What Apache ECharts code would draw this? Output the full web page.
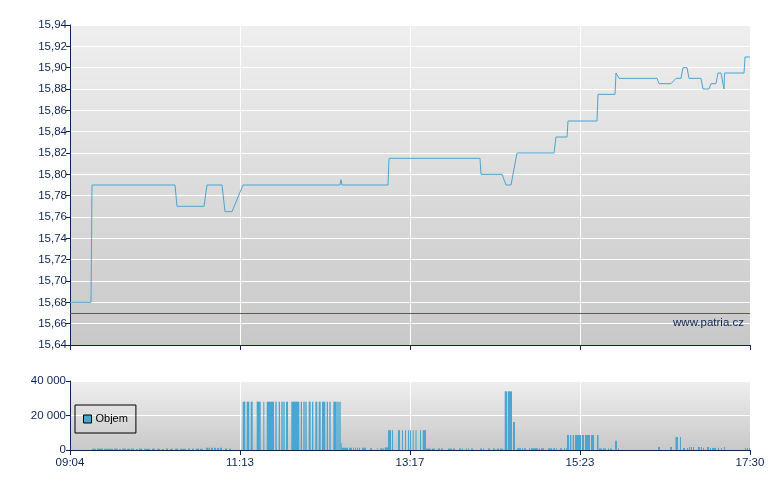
<!DOCTYPE html>
<html>
<head>
<meta charset="utf-8">
<script src="https://cdn.jsdelivr.net/npm/echarts@6/dist/echarts.min.js"></script>
<style>
html,body{margin:0;padding:0;background:#fff;}
#chart{width:780px;height:490px;}
</style>
</head>
<body>
<div id="chart"></div>
<script>
// x positions are in time slots: 0 = 09:04, 680 = 17:30 (axis is evenly spaced by tick labels)
const timeTickLabels = ['09:04', '11:13', '13:17', '15:23', '17:30'];

const priceX = [0,21,22,105,107,134,137,152,155,162,173,270,271,272,318,319,410,411,432,436,441,447,484,486,497,498,527,528,545,546,548,549,587,589,601,606,611,613,617,619,631,633,639,641,646,648,651,654,654.5,674,675,680];
const priceY = [15.68,15.68,15.79,15.79,15.77,15.77,15.79,15.79,15.765,15.765,15.79,15.79,15.795,15.79,15.79,15.815,15.815,15.80,15.80,15.79,15.79,15.82,15.82,15.835,15.835,15.85,15.85,15.875,15.875,15.895,15.895,15.89,15.89,15.885,15.885,15.89,15.89,15.90,15.90,15.89,15.89,15.88,15.88,15.885,15.885,15.895,15.895,15.88,15.895,15.895,15.91,15.91];

const previousClose = 15.67;

// volume bars: [slot start, slot end, volume]
const volumeBars = [
  [22,26,700],[27,33,800],[34,43,700],[44,48,800],[49,51,600],[52,56,800],[57,60,700],[61,64,800],
  [66,68,600],[69,72,800],[74,80,700],[82,85,800],[87,90,700],[92,94,600],[96,98,800],[100,103,700],
  [105,108,800],[110,116,700],[118,120,800],[122,124,700],[126,129,800],[130,133,700],
  [136,138,1300],[138.5,140,1300],[141,143,1300],[144,146,1300],[147,149,1200],[150,152,1300],
  [155,157,800],[159,161,700],
  [172.7,175.3,28000],[176.7,179.3,28000],[180.7,182.7,28000],[186.7,190.7,28000],[193.3,194.3,28000],
  [196.7,204,28000],[205.3,206.7,28000],[208.7,210,28000],[211.3,212.7,28000],[213.3,214.7,28000],
  [216,218,28000],[221.3,229.3,28000],[230.7,232,28000],[233.3,234.7,28000],[235.3,236.7,28000],
  [238.7,240.7,28000],[242,243.3,28000],[245.3,247.3,28000],[248.7,250.7,28000],[252,255.3,28000],
  [256.7,258,28000],[259.3,260.7,28000],[263.3,266.7,28000],[267.3,268.7,28000],[269.3,270.7,28000],
  [270.7,271.5,4000],
  [271.5,278,1300],[279,282,1300],[283,284,1300],[285,286,1300],[287,288,1300],[289,290,1300],[292,296,1300],
  [300,302,1000],[307,308,900],[310,312.7,900],[313,314,900],[314.7,318,1500],
  [318,321,11500],[322,323,11500],[328,330,11500],[332,333,11500],[335,336,11500],[338,339,11500],
  [340,341,11500],[342.7,343.5,11500],[345.5,346.5,11500],[350,351,11500],[352.7,356,11500],
  [356,361,800],[362,365,800],[368,370,800],[371,373,800],[378,382,800],[383,385,800],[389,391,800],
  [392,393,800],[396,397,800],[398,399,800],[401,403,800],[410,412,800],[413,414,800],[418,420,800],
  [423,425,800],[427,429,800],[430,433,800],
  [434.7,437.3,34000],[438,442,34000],[443,445,16300],
  [447,451,1000],[452,453,1000],[454,456,1000],[459,460,1000],[461,468,1000],[469,470,1000],
  [471,474,1000],[478,482,1000],[483,485,1000],[486,487,1000],[490,492,1000],[494,495,1000],[496,496.7,1000],
  [497,499,8700],[500,501.3,8700],[502.7,504,8700],[505,511,8700],[512,514,8700],[515,520,8700],
  [521,524,8700],[527,528.5,8700],
  [529,532,900],[533,536,900],[538,539,900],[540,542,900],[545,547,5300],[548,549,800],
  [588,590,1700],[600,602,1700],[605.5,608,7500],[610,611,7500],[613,615,1200],[617,618,1200],
  [619,620,1700],[621,622,1700],[623,624,1700],[628,630,1700],[631,632,1700],[633,634,1200],
  [637,639,1700],[640,641,1200],[642,646,1200],[648,649,1200],[651,652,1200],[654,655,1700],
  [675,676,1200],[677,678,1200],[679,680,1200]
];

const NAVY = '#0b2454';
const BLUE = '#48a6d0';
const FONT = '"Liberation Sans", Arial, sans-serif';

const chart = echarts.init(document.getElementById('chart'), null, {renderer: 'canvas'});

function bg() {
  return new echarts.graphic.LinearGradient(0, 0, 0, 1, [
    {offset: 0, color: '#efefef'},
    {offset: 1, color: '#c8c8c8'}
  ]);
}

const xCommon = {
  type: 'value', min: 0, max: 680, interval: 170,
  axisLine: {show: true, lineStyle: {color: NAVY, width: 1}},
  axisTick: {show: true, length: 5, lineStyle: {color: NAVY}},
  splitLine: {show: true, lineStyle: {color: '#ffffff', width: 1}}
};

const option = {
  animation: false,
  backgroundColor: '#ffffff',
  textStyle: {fontFamily: FONT},
  grid: [
    {left: 70, right: 30, top: 25, height: 320, show: true, backgroundColor: bg(), borderWidth: 0},
    {left: 70, right: 30, top: 381, height: 69, show: true, backgroundColor: bg(), borderWidth: 0}
  ],
  xAxis: [
    Object.assign({}, xCommon, {gridIndex: 0, axisLabel: {show: false}}),
    Object.assign({}, xCommon, {gridIndex: 1, axisLabel: {
      show: true, color: NAVY, fontSize: 11.5, fontFamily: FONT, margin: 7,
      showMinLabel: true, showMaxLabel: true,
      formatter: v => timeTickLabels[Math.round(v / 170)]
    }})
  ],
  yAxis: [
    {
      type: 'value', gridIndex: 0, min: 15.64, max: 15.94, interval: 0.02,
      axisLine: {show: true, lineStyle: {color: NAVY, width: 1}},
      axisTick: {show: true, length: 4, lineStyle: {color: NAVY}},
      splitLine: {show: true, lineStyle: {color: '#ffffff', width: 1}},
      axisLabel: {color: NAVY, fontSize: 11.5, fontFamily: FONT, margin: 3,
        formatter: v => v.toFixed(2).replace('.', ',')}
    },
    {
      type: 'value', gridIndex: 1, min: 0, max: 40000, interval: 20000,
      axisLine: {show: true, lineStyle: {color: NAVY, width: 1}},
      axisTick: {show: true, length: 4, lineStyle: {color: NAVY}},
      splitLine: {show: true, lineStyle: {color: '#ffffff', width: 1}},
      axisLabel: {color: NAVY, fontSize: 11.5, fontFamily: FONT, margin: 4,
        formatter: v => String(v).replace(/\B(?=(\d{3})+(?!\d))/g, ' ')}
    }
  ],
  legend: {
    data: ['Objem'], left: 75, top: 405, padding: [8, 8, 8, 8],
    borderColor: '#000', borderWidth: 1, borderRadius: 0, backgroundColor: 'transparent',
    icon: 'rect', itemWidth: 8, itemHeight: 8, itemGap: 5,
    itemStyle: {color: BLUE, borderColor: '#000', borderWidth: 1},
    textStyle: {color: '#000', fontSize: 11, lineHeight: 12, fontFamily: FONT, padding: [0, 0, 0, -1]}
  },
  graphic: [
    {type: 'text', right: 36, top: 317, z: 10,
     style: {text: 'www.patria.cz', fill: NAVY, font: '11.5px ' + FONT}}
  ],
  series: [
    {
      name: 'Kurz', type: 'line', xAxisIndex: 0, yAxisIndex: 0,
      data: priceX.map((x, i) => [x, priceY[i]]),
      showSymbol: false, symbol: 'none', smooth: false,
      lineStyle: {color: BLUE, width: 1},
      itemStyle: {color: BLUE},
      markLine: {
        silent: true, symbol: 'none', label: {show: false},
        lineStyle: {color: '#a83a3a', width: 1, type: 'solid'},
        data: [{yAxis: previousClose}]
      },
      z: 5
    },
    {
      name: 'Objem', type: 'custom', xAxisIndex: 1, yAxisIndex: 1,
      data: volumeBars,
      encode: {x: [0, 1], y: 2},
      itemStyle: {color: BLUE},
      renderItem: function (params, api) {
        const p0 = api.coord([api.value(0), api.value(2)]);
        const p1 = api.coord([api.value(1), 0]);
        return {
          type: 'rect',
          shape: {x: p0[0], y: p0[1], width: Math.max(1, p1[0] - p0[0]), height: p1[1] - p0[1]},
          style: {fill: BLUE}
        };
      },
      z: 3
    }
  ]
};

chart.setOption(option);
</script>
</body>
</html>
